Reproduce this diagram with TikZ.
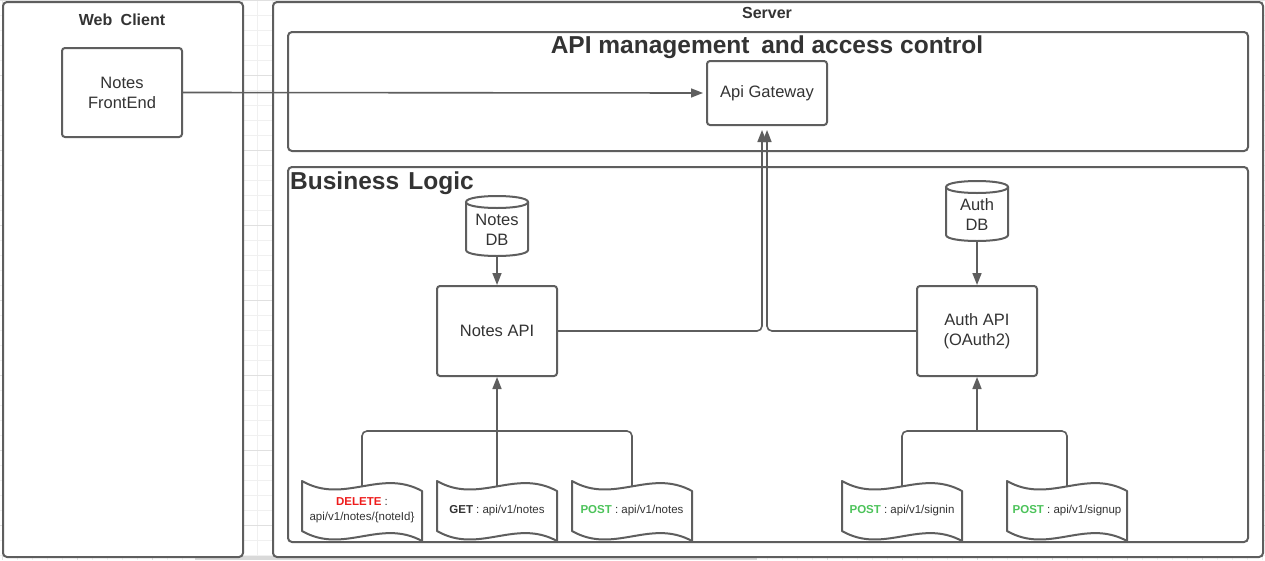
\documentclass[tikz,border=0pt]{standalone}
\usepackage{fontspec}
\setmainfont{Liberation Sans}
\usetikzlibrary{arrows.meta,calc}
\definecolor{ln}{HTML}{5E5E5E}
\definecolor{tx}{HTML}{333333}
\definecolor{delred}{HTML}{EE1C1C}
\definecolor{postgreen}{HTML}{4CC35A}
\definecolor{gridminor}{HTML}{F0F0F0}
\definecolor{gridmajor}{HTML}{E0E0E0}
\newcommand\wavedoc[2]{\draw[docline,shift={(#1,#2)}] (0,0) .. controls (42,24) and (78,-13) .. (120,10) -- (120,60) .. controls (78,37) and (42,74) .. (0,50) -- cycle;}
\newcommand\dbshape[3]{% center x, top y, bottom y
  \fill[white] ({#1-31},{#2+6}) -- ({#1-31},{#3-6}) .. controls ({#1-31},{#3+2}) and ({#1+31},{#3+2}) .. ({#1+31},{#3-6}) -- ({#1+31},{#2+6}) -- cycle;
  \draw[dbline] ({#1-31},{#2+6}) -- ({#1-31},{#3-6}) .. controls ({#1-31},{#3+2}) and ({#1+31},{#3+2}) .. ({#1+31},{#3-6}) -- ({#1+31},{#2+6});
  \draw[dbline,fill=white] ({#1-31},{#2+6}) .. controls ({#1-31},{#2-2}) and ({#1+31},{#2-2}) .. ({#1+31},{#2+6}) .. controls ({#1+31},{#2+14}) and ({#1-31},{#2+14}) .. cycle;}
\begin{document}
\begin{tikzpicture}[x=1pt,y=-1pt,
  container/.style={draw=ln,line width=2pt,fill=white,rounded corners=4pt,inner sep=0pt,anchor=north west},
  box/.style={draw=ln,line width=2pt,fill=white,rounded corners=3pt,text=tx,align=center,
    font=\fontsize{16.5}{20}\selectfont,inner sep=0pt,minimum width=120pt},
  ttl/.style={text=tx,font=\fontsize{16}{19}\selectfont\bfseries,inner sep=0pt},
  bigttl/.style={text=tx,font=\fontsize{24.5}{28}\selectfont\bfseries,inner sep=0pt},
  dbtext/.style={text=tx,align=center,font=\fontsize{16.5}{20}\selectfont,inner sep=0pt},
  dbbox/.style={draw=none,minimum width=62pt,minimum height=60pt,inner sep=0pt},
  dbline/.style={draw=ln,line width=2pt},
  docline/.style={draw=ln,line width=2pt,fill=white,line join=round},
  doctext/.style={text=tx,align=center,font=\fontsize{11.5}{15}\selectfont,inner sep=0pt},
  conn/.style={draw=ln,line width=1.6pt,rounded corners=5pt},
  arr/.style={conn,-{Triangle[length=12pt,width=9pt]}},
  gmin/.style={draw=gridminor,line width=0.8pt},
  gmaj/.style={draw=gridmajor,line width=0.8pt}]
\useasboundingbox (0,0) rectangle (1265,560);
\fill[white] (0,0) rectangle (1265,560);
% background grid
\foreach \x in {2,17,...,1265} \draw[gmin] (\x,0) -- (\x,560);
\foreach \y in {0,15,...,560} \draw[gmin] (0,\y) -- (1265,\y);
\foreach \x in {2,77,...,1265} \draw[gmaj] (\x,0) -- (\x,560);
\foreach \y in {0,75,...,560} \draw[gmaj] (0,\y) -- (1265,\y);
\fill[black!15] (195,556) rectangle (757,560);

% containers
\node[container,minimum width=240pt,minimum height=555pt] (web) at (2,1) {};
\node[ttl] (webt) at (122,19.5) {Web\hspace{0.25em} Client};
\node[container,minimum width=990pt,minimum height=555pt] (srv) at (272,1) {};
\node[ttl] (srvt) at (767,12.5) {Server};
\node[container,minimum width=960pt,minimum height=119pt] (apim) at (287,31) {};
\node[bigttl] (apimt) at (767,47.5) {API management\hspace{0.2em} and access control};
\node[container,minimum width=960pt,minimum height=375pt] (biz) at (287,166) {};
\node[bigttl,anchor=west] (bizt) at (290,183.5) {Business\hspace{0.1em} Logic};

% main boxes
\node[box,minimum height=89pt] (fe) at (122,92.5) {Notes\\FrontEnd};
\node[box,minimum height=64pt] (gw) at (767,93) {Api Gateway};
\node[box,minimum height=90pt] (napi) at (497,331) {Notes API};
\node[box,minimum height=90pt] (aapi) at (977,331) {Auth API\\(OAuth2)};

% databases
\dbshape{497}{196}{256}
\node[dbbox] (ndb) at (497,226) {};
\node[dbtext] (ndbt) at (497,229.5) {Notes\\DB};
\dbshape{977}{181}{241}
\node[dbbox] (adb) at (977,211) {};
\node[dbtext] (adbt) at (977,214.5) {Auth\\DB};

% endpoint documents
\wavedoc{302}{481}
\wavedoc{437}{481}
\wavedoc{572}{481}
\wavedoc{842}{481}
\wavedoc{1007}{481}
\node[doctext] (d1) at (362,510) {{\color{delred}\bfseries DELETE} :\\api/v1/notes/\{noteId\}};
\node[doctext] (d2) at (497,511) {{\bfseries GET} : api/v1/notes};
\node[doctext] (d3) at (632,511) {{\color{postgreen}\bfseries POST} : api/v1/notes};
\node[doctext] (d4) at (902,511) {{\color{postgreen}\bfseries POST} : api/v1/signin};
\node[doctext] (d5) at (1067,511) {{\color{postgreen}\bfseries POST} : api/v1/signup};
\coordinate (d1top) at (362,486);
\coordinate (d2top) at (497,486);
\coordinate (d3top) at (632,486);
\coordinate (d4top) at (902,486);
\coordinate (d5top) at (1067,486);
\coordinate (nj) at (497,431);
\coordinate (aj) at (977,431);

% connectors
\draw[arr,shorten >=3pt] (fe.east) -- (gw.west);
\draw[arr,shorten >=4pt] (napi.east) -| ($(gw.south)+(-5,0)$);
\draw[arr,shorten >=4pt] (aapi.west) -| (gw.south);
\draw[arr] (ndb.south) -- (napi.north);
\draw[arr] (adb.south) -- (aapi.north);
\draw[conn] (d1top) |- (nj) -| (d3top);
\draw[arr] (d2top) -- (napi.south);
\draw[conn] (d4top) |- (aj) -| (d5top);
\draw[arr] (aj) -- (aapi.south);
\end{tikzpicture}
\end{document}
